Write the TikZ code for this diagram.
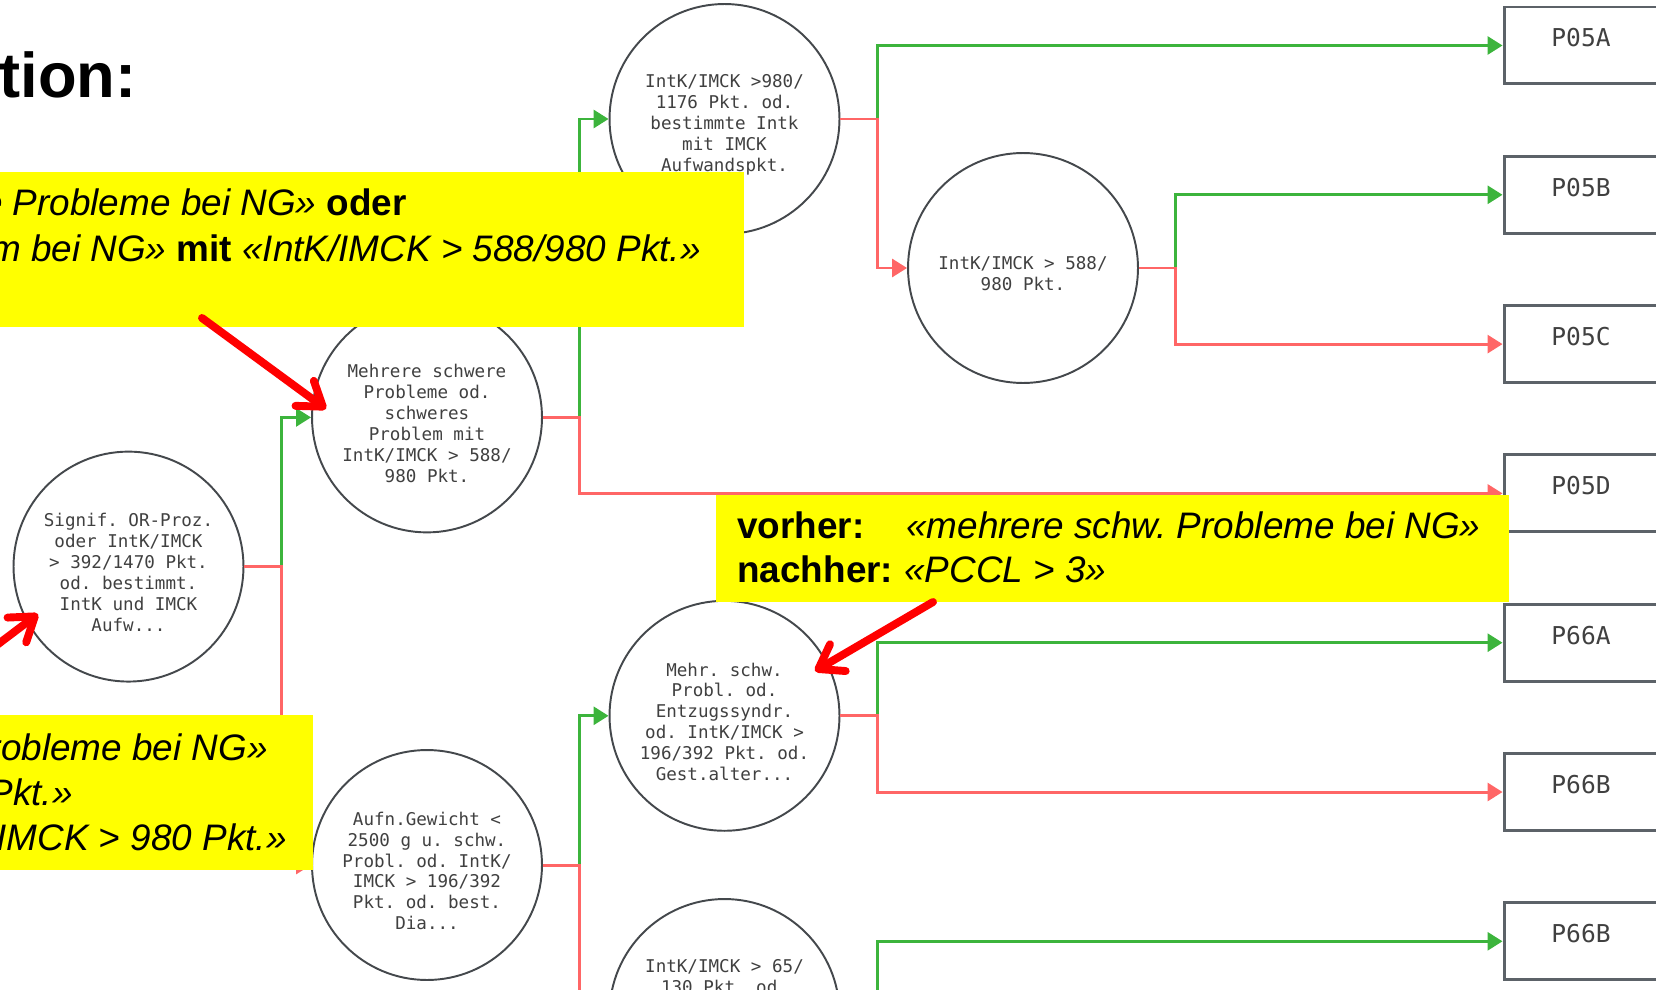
\documentclass[tikz,border=0pt]{standalone}
\usepackage{fontspec}
\setmainfont{Liberation Sans}
\newfontfamily\condfont{DejaVu Sans Mono}
\usetikzlibrary{arrows.meta,positioning}
\definecolor{yesgreen}{RGB}{60,180,60}
\definecolor{nored}{RGB}{255,102,102}
\definecolor{ringgray}{RGB}{68,72,76}
\definecolor{boxgray}{RGB}{92,98,104}
\definecolor{txtgray}{RGB}{64,64,64}
\definecolor{notegelb}{RGB}{255,255,0}
\frenchspacing

\begin{document}
\begin{tikzpicture}[x=0.02cm,y=-0.02cm,
   condtxt/.style={inner sep=0pt,align=center,text=txtgray,font=\condfont\fontsize{10}{11.9}\selectfont},
   cond/.style={circle,draw=ringgray,line width=1.1pt,fill=white,minimum size=4.6cm,inner sep=0pt},
   inside/.style={label={[condtxt,yshift=-3.4pt]center:{#1}}},
   drg/.style={rectangle,draw=boxgray,line width=1.7pt,fill=white,minimum width=3.08cm,minimum height=1.54cm,
      inner sep=0pt,text=txtgray,text height=10pt,text depth=8.5pt,font=\condfont\fontsize{14}{16}\selectfont},
   yes/.style={draw=yesgreen,line width=1.7pt,-{Triangle[length=0.3cm,width=0.36cm]}},
   no/.style={draw=nored,line width=1.7pt,-{Triangle[length=0.3cm,width=0.36cm]}},
   note/.style={fill=notegelb},
   notetxt/.style={inner sep=0pt,font=\fontsize{21}{25.6}\selectfont},
   hint/.style={draw=red,line width=4.5pt,line cap=round,-{Straight Barb[length=0.45cm,width=0.62cm,round]}}]
   \useasboundingbox (0,0) rectangle (1656,990);
   \clip (0,0) rectangle (1656,990);
   % decision nodes
   \node[cond,inside={Signif. OR-Proz.\\oder IntK/IMCK\\> 392/1470 Pkt.\\od. bestimmt.\\IntK und IMCK\\Aufw...}] (sig) at (128.5,566.6) {};
   \node[cond,inside={Mehrere schwere\\Probleme od.\\schweres\\Problem mit\\IntK/IMCK > 588/\\980 Pkt.}] (mehr) at (427,417.4) {};
   \node[cond,inside={Aufn.Gewicht <\\2500 g u. schw.\\Probl. od. IntK/\\IMCK > 196/392\\Pkt. od. best.\\Dia...}] (aufn) at (427,865) {};
   \node[cond,inside={IntK/IMCK >980/\\1176 Pkt. od.\\bestimmte Intk\\mit IMCK\\Aufwandspkt.}] (ik980) at (724.5,119) {};
   \node[cond,inside={Mehr. schw.\\Probl. od.\\Entzugssyndr.\\od. IntK/IMCK >\\196/392 Pkt. od.\\Gest.alter...}] (mschw) at (724.5,715.8) {};
   \node[cond] (ik65) at (724.5,1014) {};
   \node[condtxt,anchor=north] (ik65txt) at (724.5,959) {IntK/IMCK > 65/\\130 Pkt. od.};
   \node[cond,inside={IntK/IMCK > 588/\\980 Pkt.}] (ik588) at (1023,268) {};
   % DRGs
   \node[drg] (p05a) at (1581,45.5) {P05A};
   \node[drg] (p05b) at (1581,194.8) {P05B};
   \node[drg] (p05c) at (1581,344.1) {P05C};
   \node[drg] (p05d) at (1581,493.4) {P05D};
   \node[drg] (p66a) at (1581,642.7) {P66A};
   \node[drg] (p66b) at (1581,792) {P66B};
   \node[drg] (p66c) at (1581,941.3) {P66B};
   % yes / no branches
   \draw[yes] (sig.east) -- ++(37,0) |- (mehr.west);
   \draw[no] (sig.east) -- ++(37,0) |- (aufn.west);
   \draw[yes] (mehr.east) -- ++(37,0) |- (ik980.west);
   \draw[no] (mehr.east) -- ++(37,0) |- (p05d.west);
   \draw[yes] (ik980.east) -- ++(37,0) |- (p05a.west);
   \draw[no] (ik980.east) -- ++(37,0) |- (ik588.west);
   \draw[yes] (ik588.east) -- ++(37,0) |- (p05b.west);
   \draw[no] (ik588.east) -- ++(37,0) |- (p05c.west);
   \draw[yes] (aufn.east) -- ++(37,0) |- (mschw.west);
   \draw[no] (aufn.east) -- ++(37,0) |- (ik65.west);
   \draw[yes] (mschw.east) -- ++(37,0) |- (p66a.west);
   \draw[no] (mschw.east) -- ++(37,0) |- (p66b.west);
   \draw[yes] (ik65.east) -- ++(37,0) |- (p66c.west);
   % title
   \node[anchor=base east,inner sep=0pt,font=\bfseries\fontsize{36}{40}\selectfont] (titel) at (137,97) {tion:};
   % callouts
   \fill[note] (0,172) rectangle (744,327);
   \fill[note] (716,495) rectangle (1509,602);
   \fill[note] (0,715) rectangle (313,870);
   \node[notetxt,anchor=base east] (alt1) at (407,215) {\textit{schwere Probleme bei NG»} \textbf{oder}};
   \node[notetxt,anchor=base east] (alt2) at (701,261) {\textit{Problem bei NG»} \textbf{mit} \textit{«IntK/IMCK > 588/980 Pkt.»}};
   \node[notetxt,anchor=base west] (vorher) at (737,538) {\textbf{vorher:}};
   \node[notetxt,anchor=base west] (vorhertxt) at (906,538) {\textit{«mehrere schw. Probleme bei NG»}};
   \node[notetxt,anchor=base west] (nachher) at (737,582) {\textbf{nachher:}};
   \node[notetxt,anchor=base west] (nachhertxt) at (904,582) {\textit{«PCCL > 3»}};
   \node[notetxt,anchor=base east] (neu1) at (268,760) {\textit{Probleme bei NG»}};
   \node[notetxt,anchor=base east] (neu2) at (73,805) {\textit{Pkt.»}};
   \node[notetxt,anchor=base east] (neu3) at (287,850) {\textit{IntK/IMCK > 980 Pkt.»}};
   % pointers
   \coordinate (h1s) at (202,318);
   \coordinate (h1e) at (326,409);
   \coordinate (h2s) at (933,602);
   \coordinate (h2e) at (815,671);
   \coordinate (h3s) at (-64,691);
   \coordinate (h3e) at (38,614);
   \draw[hint] (h1s) -- (h1e);
   \draw[hint] (h2s) -- (h2e);
   \draw[hint] (h3s) -- (h3e);
\end{tikzpicture}
\end{document}
